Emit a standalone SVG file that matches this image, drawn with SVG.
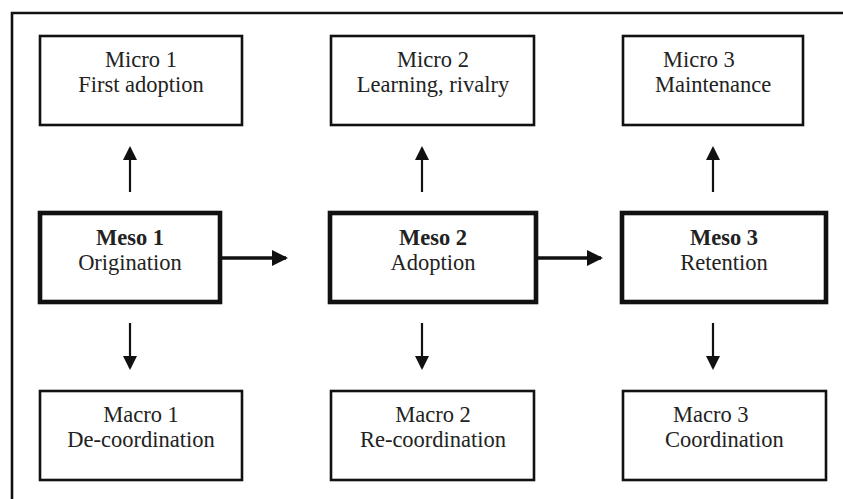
<svg xmlns="http://www.w3.org/2000/svg" width="843" height="499" viewBox="0 0 843 499">
  <style>
    .frame { fill: none; stroke: #111; stroke-width: 2.6; }
    .thin { fill: #fff; stroke: #111; stroke-width: 2.6; }
    .thick { fill: #fff; stroke: #111; stroke-width: 4.6; }
    text { font-family: 'Liberation Serif', 'Times New Roman', Times, serif; font-size: 22.5px; fill: #222; }
    .c { text-anchor: middle; }
    .b { font-weight: bold; }
    .v { stroke: #111; stroke-width: 2.2; fill: none; }
    .h { stroke: #111; stroke-width: 3.6; fill: none; }
  </style>
  <defs>
    <marker id="headV" viewBox="0 0 14 14" refX="12" refY="7" markerUnits="userSpaceOnUse" markerWidth="15" markerHeight="14" orient="auto">
      <path d="M0,0 L14,7 L0,14 Z" fill="#111"/>
    </marker>
    <marker id="headH" viewBox="0 0 16 16" refX="14" refY="8" markerUnits="userSpaceOnUse" markerWidth="17" markerHeight="16" orient="auto">
      <path d="M0,0 L16,8 L0,16 Z" fill="#111"/>
    </marker>
  </defs>
  <rect width="843" height="499" fill="#fff"/>

  <!-- outer frame: top and left edges -->
  <path class="frame" d="M12,499 L12,13 L843,13"/>

  <g id="micro1">
    <rect class="thin" x="40" y="36" width="202" height="89"/>
    <text class="c" x="141" y="67">Micro 1</text>
    <text class="c" x="141" y="92">First adoption</text>
  </g>
  <g id="micro2">
    <rect class="thin" x="331" y="36" width="203" height="89"/>
    <text class="c" x="433" y="67">Micro 2</text>
    <text class="c" x="433" y="92">Learning, rivalry</text>
  </g>
  <g id="micro3">
    <rect class="thin" x="623" y="36" width="180" height="89"/>
    <text x="663" y="67">Micro 3</text>
    <text x="655" y="92">Maintenance</text>
  </g>

  <g id="meso1">
    <rect class="thick" x="40" y="213" width="180" height="89"/>
    <text class="c b" x="130" y="245">Meso 1</text>
    <text class="c" x="130" y="270">Origination</text>
  </g>
  <g id="meso2">
    <rect class="thick" x="330" y="213" width="206" height="89"/>
    <text class="c b" x="433" y="245">Meso 2</text>
    <text class="c" x="433" y="270">Adoption</text>
  </g>
  <g id="meso3">
    <rect class="thick" x="622" y="213" width="204" height="89"/>
    <text class="c b" x="724" y="245">Meso 3</text>
    <text class="c" x="724" y="270">Retention</text>
  </g>

  <g id="macro1">
    <rect class="thin" x="40" y="391" width="202" height="89"/>
    <text class="c" x="141" y="422">Macro 1</text>
    <text class="c" x="141" y="447">De-coordination</text>
  </g>
  <g id="macro2">
    <rect class="thin" x="331" y="391" width="203" height="89"/>
    <text class="c" x="433" y="422">Macro 2</text>
    <text class="c" x="433" y="447">Re-coordination</text>
  </g>
  <g id="macro3">
    <rect class="thin" x="623" y="391" width="203" height="89"/>
    <text x="673" y="422">Macro 3</text>
    <text x="665" y="447">Coordination</text>
  </g>

  <g id="connectors">
    <!-- meso to micro -->
    <line class="v" x1="130" y1="192" x2="130" y2="148" marker-end="url(#headV)"/>
    <line class="v" x1="422" y1="192" x2="422" y2="148" marker-end="url(#headV)"/>
    <line class="v" x1="713" y1="192" x2="713" y2="148" marker-end="url(#headV)"/>
    <!-- meso to macro -->
    <line class="v" x1="130" y1="323" x2="130" y2="368" marker-end="url(#headV)"/>
    <line class="v" x1="422" y1="323" x2="422" y2="368" marker-end="url(#headV)"/>
    <line class="v" x1="713" y1="323" x2="713" y2="368" marker-end="url(#headV)"/>
    <!-- meso sequence -->
    <line class="h" x1="222" y1="258" x2="286" y2="258" marker-end="url(#headH)"/>
    <line class="h" x1="538" y1="258" x2="601" y2="258" marker-end="url(#headH)"/>
  </g>
</svg>
